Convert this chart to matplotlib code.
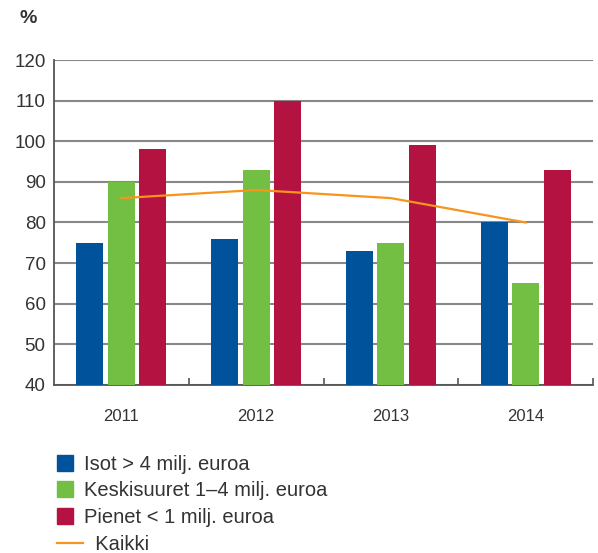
import numpy as np
import matplotlib
matplotlib.use("Agg")
import matplotlib.pyplot as plt
from matplotlib.patches import Patch
from matplotlib.lines import Line2D
from matplotlib.legend_handler import HandlerLine2D

plt.rcParams['font.family'] = ['Liberation Sans', 'DejaVu Sans']

years = ['2011', '2012', '2013', '2014']
isot = [75, 76, 73, 80]
keski = [90, 93, 75, 65]
pienet = [98, 110, 99, 93]
kaikki = [86, 88, 86, 80]

labels = ['Isot > 4 milj. euroa', 'Keskisuuret 1\u20134 milj. euroa',
          'Pienet < 1 milj. euroa', '  Kaikki']
c_blue = '#00529b'
c_green = '#72bf44'
c_red = '#b41241'
c_orange = '#f7941d'
txt = '#333333'


class LongLine(HandlerLine2D):
    # line sample in the legend is a bit longer than the boxes
    def create_artists(self, legend, orig, xd, yd, width, height, fontsize, trans):
        return super().create_artists(legend, orig, xd, yd, width * 1.6, height, fontsize, trans)


fig = plt.figure(figsize=(5.98, 5.53), dpi=100)
ax = fig.add_axes([0.0903, 0.3038, 0.9016, 0.5877])

x = np.arange(len(years))
w = 0.2
off = 0.234
ax.bar(x - off, isot, w, color=c_blue, zorder=3)
ax.bar(x, keski, w, color=c_green, zorder=3)
ax.bar(x + off, pienet, w, color=c_red, zorder=3)
ax.plot(x, kaikki, color=c_orange, lw=1.6, zorder=4)

ax.set_ylim(40, 120)
ax.set_xlim(-0.5, 3.5)
ax.set_yticks(range(40, 121, 10))
ax.yaxis.grid(True, color='#888888', lw=1.5, zorder=0)
ax.set_axisbelow(True)

ax.set_xticks(x)
ax.set_xticklabels(years)
ax.set_xticks(np.arange(0.5, 3.6, 1), minor=True)
ax.tick_params(axis='x', which='major', length=0, pad=17, labelsize=12, labelcolor=txt)
ax.tick_params(axis='x', which='minor', length=5, direction='in', color='#555555', width=1.2)
ax.tick_params(axis='y', length=0, pad=6, labelsize=13.5, labelcolor=txt)

for s in ['top', 'right']:
    ax.spines[s].set_visible(False)
for s in ['left', 'bottom']:
    ax.spines[s].set_color('#555555')
    ax.spines[s].set_linewidth(1.3)

fig.text(0.033, 0.967, '%', fontsize=14, fontweight='bold', color=txt, va='center')

handles = [Patch(color=c_blue), Patch(color=c_green), Patch(color=c_red),
           Line2D([], [], color=c_orange, lw=1.6)]
fig.legend(handles, labels, loc='upper left', bbox_to_anchor=(0.095, 0.178),
           frameon=False, fontsize=14.5, labelcolor=txt, handlelength=0.8,
           handleheight=0.85, handletextpad=0.55, labelspacing=0.39,
           borderaxespad=0, borderpad=0,
           handler_map={Line2D: LongLine()})

fig.savefig('out.png', dpi=100)
